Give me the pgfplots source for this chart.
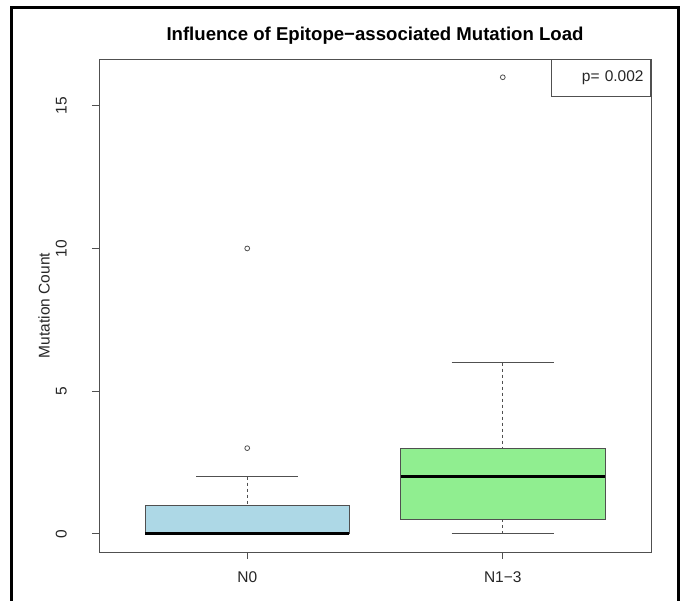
\documentclass[border=0pt]{standalone}
\usepackage{fontspec}
\setmainfont{Liberation Sans}
\usepackage{pgfplots}
\pgfplotsset{compat=1.18}
\usepgfplotslibrary{statistics}

\definecolor{boxblue}{HTML}{ADD8E6}
\definecolor{boxgreen}{HTML}{90EE90}
\definecolor{axisgray}{HTML}{505050}

% whiskers: dashed stem, solid staple
\pgfplotsset{
  boxplot/draw/lower whisker/.code={%
    \draw[/pgfplots/boxplot/every whisker/.try, dash pattern=on 3pt off 3pt]
      (boxplot cs:\pgfplotsboxplotvalue{lower whisker}) --
      (boxplot cs:\pgfplotsboxplotvalue{lower quartile});
    \draw[/pgfplots/boxplot/every whisker/.try]
      (boxplot whisker cs:\pgfplotsboxplotvalue{lower whisker},0) --
      (boxplot whisker cs:\pgfplotsboxplotvalue{lower whisker},1);
  },
  boxplot/draw/upper whisker/.code={%
    \draw[/pgfplots/boxplot/every whisker/.try, dash pattern=on 3pt off 3pt]
      (boxplot cs:\pgfplotsboxplotvalue{upper whisker}) --
      (boxplot cs:\pgfplotsboxplotvalue{upper quartile});
    \draw[/pgfplots/boxplot/every whisker/.try]
      (boxplot whisker cs:\pgfplotsboxplotvalue{upper whisker},0) --
      (boxplot whisker cs:\pgfplotsboxplotvalue{upper whisker},1);
  },
}

\begin{document}
\begin{tikzpicture}[x=1pt,y=1pt]
\path[use as bounding box] (0,0) rectangle (684,601);
% outer frame
\draw[line width=3pt] (11,-2) -- (11,593) -- (678,593) -- (678,-2);

\begin{axis}[
  at={(99pt,49pt)}, anchor=south west,
  scale only axis, width=552pt, height=493pt,
  xmin=0.42, xmax=2.58, ymin=-0.64, ymax=16.64,
  xtick={1,2}, xticklabels={N0, N1−3},
  ytick={0,5,10,15},
  tick align=outside, major tick length=7pt,
  xtick pos=bottom, ytick pos=left,
  axis line style={axisgray, line width=0.8pt},
  tick style={axisgray, line width=0.8pt},
  every tick label/.append style={font=\fontsize{15.5}{18}\selectfont, text=black!85},
  /pgf/number format/assume math mode=true,
  yticklabel style={rotate=90, anchor=south, inner sep=0pt, yshift=25pt},
  xticklabel style={inner sep=0pt, yshift=-12pt, anchor=north},
  ylabel={Mutation Count},
  ylabel style={font=\fontsize{15.5}{18}\selectfont, text=black!85,
    at={(axis description cs:-0.0996,0.5)}, anchor=center},
  title={Influence of Epitope−associated Mutation Load},
  title style={font=\bfseries\fontsize{18.6}{22}\selectfont,
    at={(axis description cs:0.5,1.036)}, anchor=center},
  boxplot/draw direction=y,
  boxplot/box extend=0.8,
  boxplot/whisker extend=0.4,
  boxplot/every whisker/.style={axisgray, line width=0.8pt},
  boxplot/every median/.style={black, line width=3pt},
]

% N0
\addplot[
  boxplot prepared={draw position=1,
    lower whisker=0, lower quartile=0, median=0,
    upper quartile=1, upper whisker=2},
  boxplot/every box/.style={draw=axisgray, fill=boxblue, line width=0.8pt},
  mark=o, mark size=2.4pt, mark options={axisgray, line width=0.8pt},
] table[row sep=\\, y index=0] {data\\ 3\\ 10\\};

% N1-3
\addplot[
  boxplot prepared={draw position=2,
    lower whisker=0, lower quartile=0.5, median=2,
    upper quartile=3, upper whisker=6},
  boxplot/every box/.style={draw=axisgray, fill=boxgreen, line width=0.8pt},
  mark=o, mark size=2.4pt, mark options={axisgray, line width=0.8pt},
] table[row sep=\\, y index=0] {data\\ 16\\};

% p-value box
\node[draw=axisgray, line width=0.8pt, anchor=north east,
  minimum width=99pt, minimum height=37pt, text width=85pt, align=right,
  inner xsep=7pt, font=\fontsize{15.5}{18}\selectfont, text=black!85]
  at (rel axis cs:1,1) {p= 0.002};
\end{axis}
\end{tikzpicture}
\end{document}
